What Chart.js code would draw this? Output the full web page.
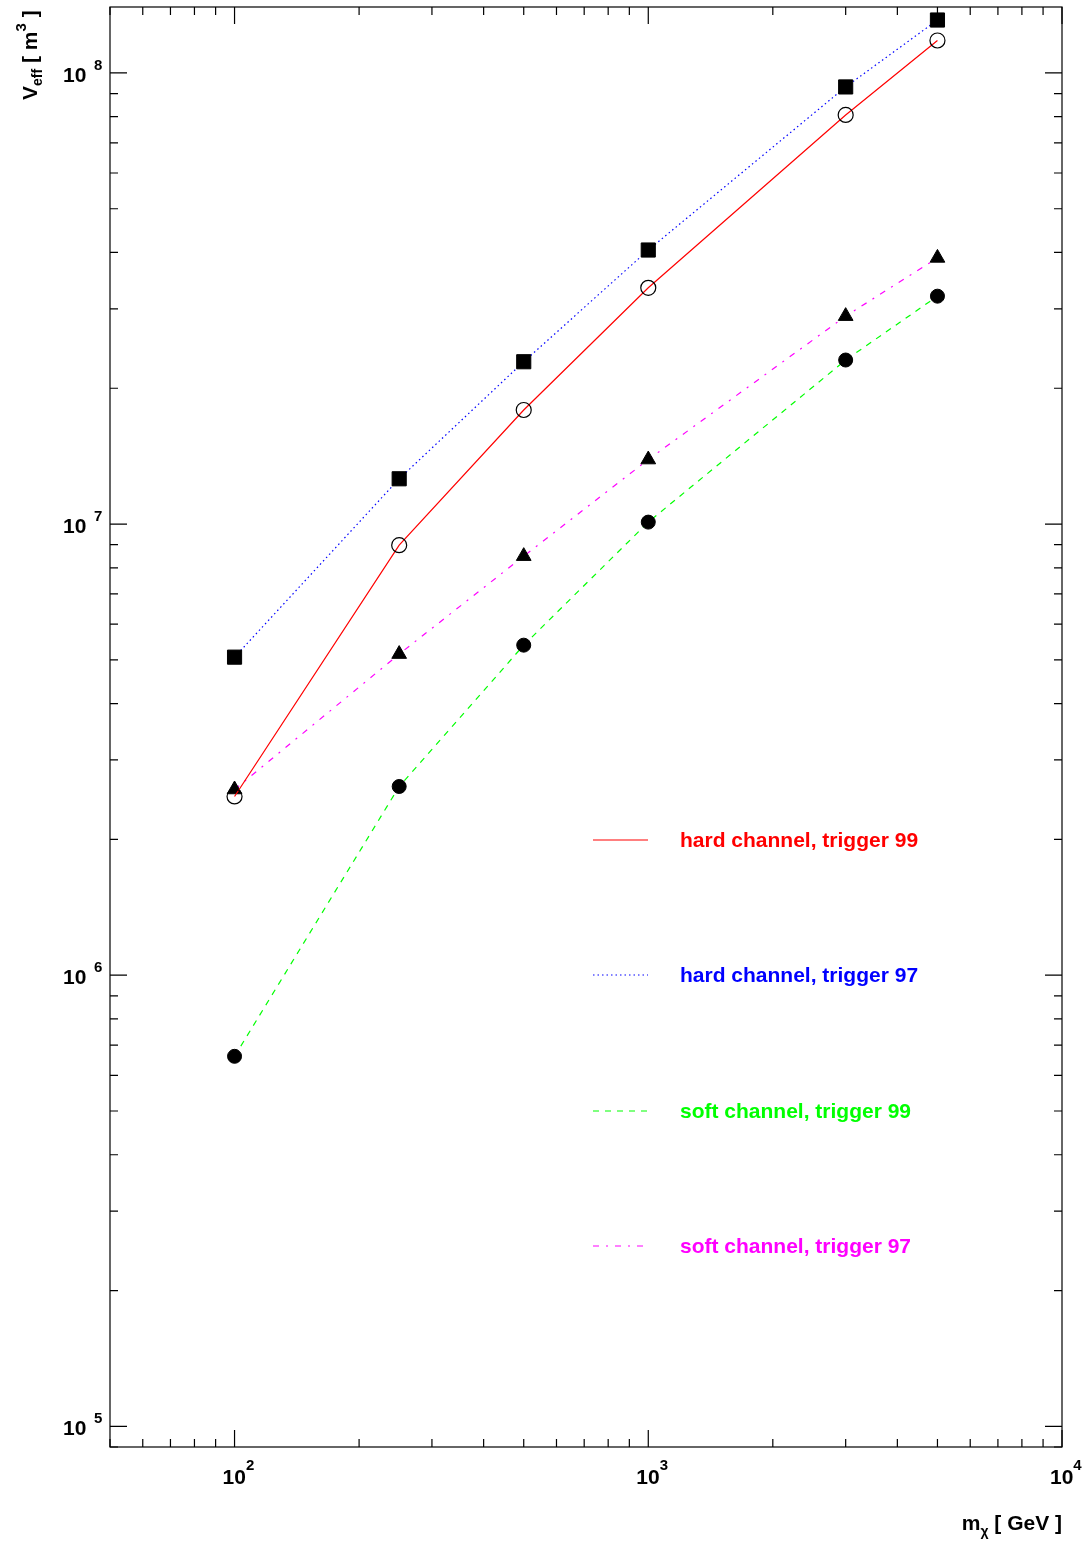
<!DOCTYPE html>
<html lang="en">
<head>
    <meta charset="UTF-8">
    <title>Veff vs m_chi</title>
    <script src="https://cdn.jsdelivr.net/npm/chart.js@4.4.1/dist/chart.umd.min.js"></script>
    <style>
        html, body { margin: 0; padding: 0; background: #fff; }
        #wrap { position: relative; width: 1090px; height: 1543px; }
    </style>
</head>
<body>
<div id="wrap"><canvas id="myChart" width="1090" height="1543"></canvas></div>

<script>
    // neutralino mass points [GeV]
    const massGeV = [100, 250, 500, 1000, 3000, 5000];

    // effective volume [m^3]
    const hardTrig99 = [2.49e6, 8.98e6, 1.79e7, 3.34e7, 8.07e7, 1.18e8];
    const hardTrig97 = [5.07e6, 1.26e7, 2.29e7, 4.05e7, 9.31e7, 1.31e8];
    const softTrig99 = [6.61e5, 2.62e6, 5.39e6, 1.01e7, 2.31e7, 3.20e7];
    const softTrig97 = [2.58e6, 5.15e6, 8.49e6, 1.39e7, 2.89e7, 3.89e7];

    const seriesNames = ['hard channel, trigger 99', 'hard channel, trigger 97',
                         'soft channel, trigger 99', 'soft channel, trigger 97'];

    const xDecades = [2, 3, 4];
    const yDecades = [5, 6, 7, 8];

    const FONT = '"Liberation Sans", Arial, Helvetica, sans-serif';

    function pts(ys) {
        return massGeV.map(function (x, i) { return {x: x, y: ys[i]}; });
    }

    // draw a run of text pieces [text, size, dy] starting at x
    function textRun(ctx, parts, x, y) {
        parts.forEach(function (p) {
            ctx.font = 'bold ' + p[1] + 'px ' + FONT;
            ctx.fillText(p[0], x, y + (p[2] || 0));
            x += ctx.measureText(p[0]).width;
        });
        return x;
    }
    function runWidth(ctx, parts) {
        var w = 0;
        parts.forEach(function (p) {
            ctx.font = 'bold ' + p[1] + 'px ' + FONT;
            w += ctx.measureText(p[0]).width;
        });
        return w;
    }

    const rootFrame = {
        id: 'rootFrame',
        beforeDatasetsDraw: function (chart) {
            var ctx = chart.ctx, a = chart.chartArea;
            var xs = chart.scales.x, ys = chart.scales.y;
            ctx.save();
            ctx.strokeStyle = '#000';
            ctx.lineWidth = 1.2;
            ctx.strokeRect(a.left, a.top, a.right - a.left, a.bottom - a.top);

            // x ticks (bottom + top)
            for (var d = 1; d <= 4; d++) {
                for (var m = 1; m <= 9; m++) {
                    var v = m * Math.pow(10, d);
                    if (v < xs.min || v > xs.max) continue;
                    var px = xs.getPixelForValue(v);
                    var len = (m === 1) ? 17 : 8;
                    ctx.beginPath();
                    ctx.moveTo(px, a.bottom); ctx.lineTo(px, a.bottom - len);
                    ctx.moveTo(px, a.top); ctx.lineTo(px, a.top + len);
                    ctx.stroke();
                }
            }
            // y ticks (left + right)
            for (var e = 4; e <= 8; e++) {
                for (var k = 1; k <= 9; k++) {
                    var w = k * Math.pow(10, e);
                    if (w < ys.min || w > ys.max) continue;
                    var py = ys.getPixelForValue(w);
                    var l2 = (k === 1) ? 17 : 8;
                    ctx.beginPath();
                    ctx.moveTo(a.left, py); ctx.lineTo(a.left + l2, py);
                    ctx.moveTo(a.right, py); ctx.lineTo(a.right - l2, py);
                    ctx.stroke();
                }
            }
            ctx.restore();
        },
        afterDraw: function (chart) {
            var ctx = chart.ctx, a = chart.chartArea;
            var xs = chart.scales.x, ys = chart.scales.y;
            ctx.save();
            ctx.fillStyle = '#000';
            ctx.textBaseline = 'alphabetic';
            ctx.textAlign = 'left';

            // x tick labels
            xDecades.forEach(function (d) {
                var px = xs.getPixelForValue(Math.pow(10, d));
                textRun(ctx, [['10', 21, 0], [String(d), 15, -14]], px - 12, 1484);
            });
            // y tick labels
            yDecades.forEach(function (d) {
                var py = ys.getPixelForValue(Math.pow(10, d));
                ctx.font = 'bold 21px ' + FONT;
                ctx.fillText('10', 63, py + 9);
                ctx.font = 'bold 15px ' + FONT;
                ctx.fillText(String(d), 94, py - 3);
            });

            // x axis title, right aligned to frame
            var xt = [['m', 21, 0], ['\u03c7', 14, 6], [' [ GeV ]', 21, 0]];
            textRun(ctx, xt, a.right - runWidth(ctx, xt), 1530);

            // y axis title, rotated
            ctx.save();
            ctx.translate(37, 100);
            ctx.rotate(-Math.PI / 2);
            textRun(ctx, [['V', 21, 0], ['eff', 14, 5], [' [ m', 21, 0], ['3', 15, -11], [' ]', 21, 0]], 0, 0);
            ctx.restore();

            // legend
            chart.data.datasets.forEach(function (ds, i) {
                var ly = [840, 975, 1111, 1246][i];
                ctx.save();
                ctx.strokeStyle = ds.borderColor;
                ctx.lineWidth = ds.borderWidth;
                ctx.setLineDash(ds.borderDash || []);
                ctx.beginPath();
                ctx.moveTo(593, ly); ctx.lineTo(648, ly);
                ctx.stroke();
                ctx.restore();
                ctx.fillStyle = ds.borderColor;
                ctx.font = 'bold 21px ' + FONT;
                ctx.textBaseline = 'middle';
                ctx.fillText(ds.label, 680, ly + 1);
            });
            ctx.restore();
        }
    };

    const ctx = document.getElementById('myChart');
    const myChart = new Chart(ctx, {
        type: 'scatter',
        data: {
            datasets: [
                {
                    label: seriesNames[0], data: pts(hardTrig99), showLine: true,
                    borderColor: '#ff0000', borderWidth: 1.2,
                    pointStyle: 'circle', pointRadius: 7.5, pointBackgroundColor: 'rgba(0,0,0,0)',
                    pointBorderColor: '#000', pointBorderWidth: 1.2
                },
                {
                    label: seriesNames[1], data: pts(hardTrig97), showLine: true,
                    borderColor: '#0000ff', borderWidth: 1.2, borderDash: [1.5, 3],
                    pointStyle: 'rect', pointRadius: 10, pointBackgroundColor: '#000',
                    pointBorderColor: '#000', pointBorderWidth: 1
                },
                {
                    label: seriesNames[2], data: pts(softTrig99), showLine: true,
                    borderColor: '#00ff00', borderWidth: 1.2, borderDash: [6, 6],
                    pointStyle: 'circle', pointRadius: 7, pointBackgroundColor: '#000',
                    pointBorderColor: '#000', pointBorderWidth: 1
                },
                {
                    label: seriesNames[3], data: pts(softTrig97), showLine: true,
                    borderColor: '#ff00ff', borderWidth: 1.2, borderDash: [6, 7, 2, 7],
                    pointStyle: 'triangle', pointRadius: 8.5, pointBackgroundColor: '#000',
                    pointBorderColor: '#000', pointBorderWidth: 1
                }
            ]
        },
        options: {
            responsive: false,
            animation: false,
            layout: { autoPadding: false, padding: { left: 110, right: 28, top: 7, bottom: 96 } },
            plugins: { legend: { display: false }, tooltip: { enabled: false } },
            scales: {
                x: { type: 'logarithmic', min: 50, max: 10000, display: false },
                y: { type: 'logarithmic', min: 9e4, max: 1.4e8, display: false }
            }
        },
        plugins: [rootFrame]
    });
</script>
</body>
</html>
